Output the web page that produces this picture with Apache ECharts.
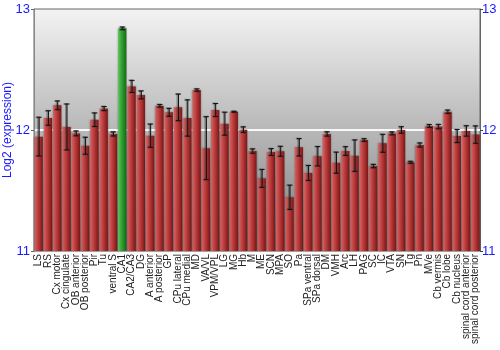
<!DOCTYPE html>
<html>
<head>
<meta charset="utf-8">
<script src="https://cdn.jsdelivr.net/npm/echarts@6/dist/echarts.min.js"></script>
<style>
  html, body { margin: 0; padding: 0; background: #fff; }
  #chart { width: 500px; height: 350px; }
</style>
</head>
<body>
<div id="chart"></div>
<script>
// regions
var regions = ['LS', 'RS', 'Cx motor', 'Cx cingulate', 'OB anterior', 'OB posterior', 'Pir', 'Tu',
    'ventral S', 'CA1', 'CA2/CA3', 'DG', 'A anterior', 'A posterior', 'GP', 'CPu lateral',
    'CPu medial', 'MD', 'VA/VL', 'VPM/VPL', 'LG', 'MG', 'Hb', 'M', 'ME', 'SCN', 'MPA', 'SO',
    'Pa', 'SPa ventral', 'SPa dorsal', 'DM', 'VMH', 'Arc', 'LH', 'PAG', 'SC', 'IC', 'VTA', 'SN',
    'Tg', 'Pn', 'MVe', 'Cb vermis', 'Cb lobe', 'Cb nucleus', 'spinal cord anterior',
    'spinal cord posterior'];

// log2 expression
var expression = [11.945, 12.099, 12.204, 12.025, 11.972, 11.87, 12.085, 12.177,
    11.967, 12.84, 12.36, 12.29, 11.953, 12.2, 12.146, 12.187,
    12.099, 12.33, 11.85, 12.165, 12.052, 12.151, 12.003, 11.826, 11.6, 11.818, 11.824, 11.444,
    11.857, 11.645, 11.783, 11.967, 11.73, 11.826, 11.788, 11.917, 11.702, 11.89, 11.972, 12.0,
    11.733, 11.876, 12.033, 12.028, 12.151, 11.95, 11.992,
    11.962];

// standard error
var stderr = [0.16, 0.06, 0.036, 0.19, 0.02, 0.07, 0.056, 0.017,
    0.017, 0.011, 0.05, 0.033, 0.096, 0.011, 0.033, 0.11,
    0.15, 0.01, 0.26, 0.054, 0.095, 0.004, 0.023, 0.018, 0.074, 0.028, 0.041, 0.1,
    0.072, 0.062, 0.08, 0.018, 0.087, 0.036, 0.13, 0.011, 0.014, 0.074, 0.012, 0.027,
    0.008, 0.017, 0.012, 0.018, 0.014, 0.054, 0.043,
    0.072];

var highlight = 'CA1';

var chartDom = document.getElementById('chart');
var myChart = echarts.init(chartDom);

var redFill = new echarts.graphic.LinearGradient(0, 0, 1, 0, [
    { offset: 0, color: '#d46464' },
    { offset: 0.45, color: '#bb3a3a' },
    { offset: 1, color: '#7a1616' }
]);
var greenFill = new echarts.graphic.LinearGradient(0, 0, 1, 0, [
    { offset: 0, color: '#5cc65c' },
    { offset: 0.45, color: '#2f9e2f' },
    { offset: 1, color: '#176917' }
]);

var barData = expression.map(function (v, i) {
    return {
        value: v,
        itemStyle: { color: regions[i] === highlight ? greenFill : redFill }
    };
});

var errData = expression.map(function (v, i) {
    return [i, v - stderr[i], v + stderr[i]];
});

function renderError(params, api) {
    var lo = api.coord([api.value(0), api.value(1)]);
    var hi = api.coord([api.value(0), api.value(2)]);
    var x = lo[0];
    var cap = 2.5;
    var shadow = { stroke: 'rgba(60,60,60,0.45)', lineWidth: 2 };
    var ink = { stroke: '#111', lineWidth: 1 };
    function parts(dx, style) {
        return [
            { type: 'line', shape: { x1: x + dx, y1: lo[1], x2: x + dx, y2: hi[1] }, style: style },
            { type: 'line', shape: { x1: x + dx - cap, y1: lo[1], x2: x + dx + cap, y2: lo[1] }, style: style },
            { type: 'line', shape: { x1: x + dx - cap, y1: hi[1], x2: x + dx + cap, y2: hi[1] }, style: style }
        ];
    }
    return { type: 'group', children: parts(-0.5, shadow).concat(parts(0.5, ink)) };
}

var option = {
    animation: false,
    textStyle: { fontFamily: 'Liberation Sans, Arial, sans-serif' },
    grid: {
        left: 34,
        right: 20,
        top: 9,
        bottom: 99,
        outerBoundsMode: 'none',
        containLabel: false,
        show: true,
        borderColor: '#666',
        borderWidth: 1,
        backgroundColor: new echarts.graphic.LinearGradient(0, 0, 0, 1, [
            { offset: 0, color: '#f3f3f3' },
            { offset: 1, color: '#7c7c7c' }
        ])
    },
    xAxis: {
        type: 'category',
        data: regions,
        axisLine: { show: false },
        axisTick: { show: false },
        axisLabel: {
            interval: 0,
            rotate: 90,
            fontSize: 10,
            color: '#222',
            margin: 3
        }
    },
    yAxis: [
        {
            type: 'value',
            min: 11,
            max: 13,
            interval: 1,
            name: 'Log2 (expression)',
            nameLocation: 'middle',
            nameGap: 20,
            nameMoveOverlap: false,
            nameTextStyle: { color: '#1a1aff', fontSize: 12 },
            axisLine: { show: true, lineStyle: { color: '#888' } },
            axisTick: { show: true, length: 3, lineStyle: { color: '#666' } },
            axisLabel: { color: '#1a1aff', fontSize: 13, margin: 4 },
            splitLine: {
                show: true,
                lineStyle: { color: ['rgba(0,0,0,0)', 'rgba(255,255,255,0.9)', 'rgba(0,0,0,0)'], width: 2 }
            }
        },
        {
            type: 'value',
            position: 'right',
            min: 11,
            max: 13,
            interval: 1,
            axisLine: { show: true, lineStyle: { color: '#666' } },
            axisTick: { show: true, length: 3, lineStyle: { color: '#444' } },
            axisLabel: { color: '#1a1aff', fontSize: 13, margin: 2 },
            splitLine: { show: false }
        }
    ],
    series: [
        {
            name: 'expression',
            type: 'bar',
            data: barData,
            barCategoryGap: '10%',
            itemStyle: {
                shadowColor: 'rgba(0,0,0,0.35)',
                shadowBlur: 2,
                shadowOffsetX: 0
            }
        },
        {
            name: 'error',
            type: 'custom',
            renderItem: renderError,
            data: errData,
            encode: { x: 0, y: [1, 2] },
            z: 5
        }
    ]
};

option && myChart.setOption(option);
</script>
</body>
</html>
